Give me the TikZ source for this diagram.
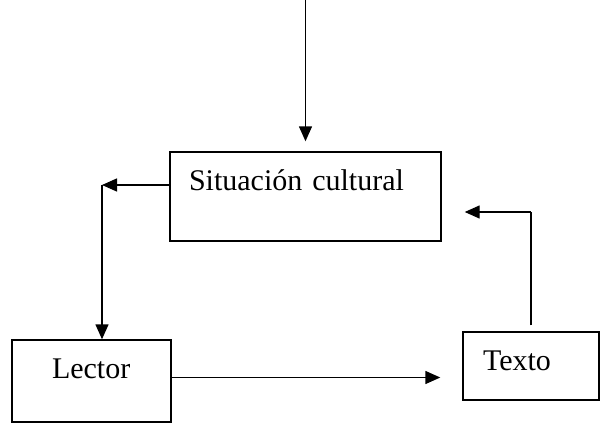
\documentclass[tikz,border=0pt]{standalone}
\usepackage{fontspec}
\setmainfont{Liberation Serif}
\usetikzlibrary{arrows.meta}

\begin{document}
\begin{tikzpicture}[x=0.5pt,y=-0.5pt,
    font=\fontsize{15pt}{18pt}\selectfont,
    line width=0.7pt,
    box/.style={draw, inner ysep=0pt, align=left},
    arr/.style={-{Triangle[length=7.5pt,width=6.5pt]}}]
    \useasboundingbox (0,0) rectangle (605,423);
    % boxes
    \node[box, inner xsep=9.5pt, text width=116.5pt, text height=19pt, text depth=25.5pt] (S) at (305.5,196.5) {Situación cultural};
    \node[box, inner xsep=20pt, text width=39.5pt, text height=19pt, text depth=22pt] (L) at (91.5,381) {Lector};
    \node[box, inner xsep=10pt, text width=48pt, text height=19pt, text depth=15pt] (T) at (531,366) {Texto};
    % corners of the connectors
    \coordinate (in) at (305.5,0);
    \coordinate (c1) at (102,185);
    \coordinate (c2) at (531,212);
    % connectors
    \draw[arr, shorten >=5pt] (in) -- (S.north);
    \draw[arr] (S.west |- c1) -- (c1);
    \draw[arr] (c1) -- (c1 |- L.north);
    \draw[arr, shorten >=11pt] ([yshift=1.75pt]L.east) -- ([yshift=1.75pt]L.east -| T.west);
    \draw[shorten <=3pt] (T.north) -- (c2);
    \draw[arr, shorten >=11.5pt] (c2) -- (c2 -| S.east);
\end{tikzpicture}
\end{document}
